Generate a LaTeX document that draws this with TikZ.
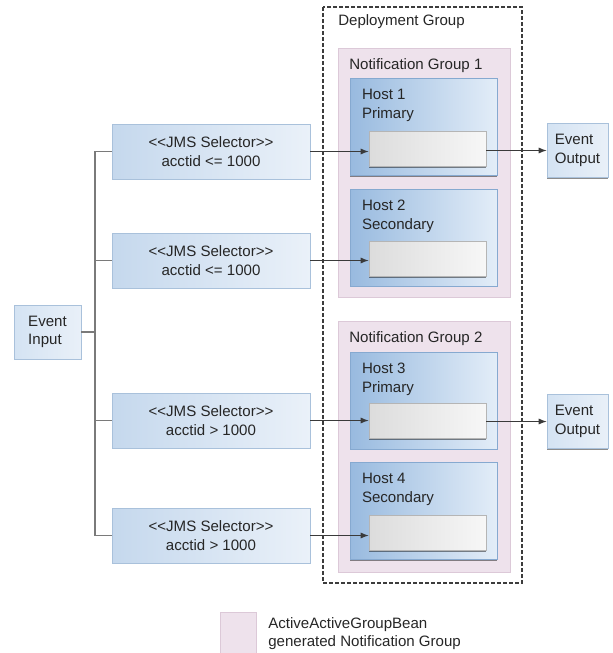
\documentclass[tikz,border=0pt]{standalone}
\usepackage{fontspec}
\setmainfont{Liberation Sans}
\usetikzlibrary{arrows.meta,shadows}
\definecolor{selA}{HTML}{C5D8ED}\definecolor{selB}{HTML}{EAF1F9}\definecolor{selline}{HTML}{A9C1DB}
\definecolor{ioA}{HTML}{D4E3F3}\definecolor{ioB}{HTML}{E9F0F8}
\definecolor{hostA}{HTML}{98BADF}\definecolor{hostB}{HTML}{E3EDF8}\definecolor{hostline}{HTML}{86A9D0}
\definecolor{slotA}{HTML}{DCDCDC}\definecolor{slotB}{HTML}{F7F7F7}\definecolor{slotline}{HTML}{B5B5B5}
\definecolor{grpfill}{HTML}{EEE2EC}\definecolor{grpline}{HTML}{DCC9D8}
\definecolor{wirec}{HTML}{7A7A7A}\definecolor{arrc}{HTML}{3A3A3A}\definecolor{dashc}{HTML}{3C3C3C}
\begin{document}
\begin{tikzpicture}[x=.75pt,y=-.75pt,font=\fontsize{11.3}{14}\selectfont,text=black!85,
  shd/.style={drop shadow={shadow xshift=.3pt,shadow yshift=-.9pt,opacity=.45,fill=black}},
  sel/.style={shd,draw=selline,left color=selA,right color=selB,minimum width=148.5pt,minimum height=41.25pt,align=center,inner sep=0pt},
  io/.style={shd,draw=selline,left color=ioA,right color=ioB,minimum height=40.5pt,align=left,inner sep=0pt},
  host/.style={shd,draw=hostline,left color=hostA,right color=hostB,minimum width=110.25pt,minimum height=72.75pt,inner sep=0pt},
  slot/.style={shd,draw=slotline,left color=slotA,right color=slotB,minimum width=87.75pt,minimum height=26.25pt,inner sep=0pt},
  grp/.style={draw=grpline,fill=grpfill,line width=.6pt},
  lbl/.style={inner sep=0pt,align=left},
  wire/.style={draw=wirec,line width=1pt},
  arr/.style={draw=arrc,line width=.75pt,-{Latex[length=6pt,width=4.5pt]}}]
\useasboundingbox (0,0) rectangle (613,653);
\draw[line width=1.1pt,dash pattern=on 3pt off 1.5pt,draw=dashc] (323,7) rectangle (522,583);
\node[lbl,anchor=base west] (dep) at (338,26) {Deployment Group};
\draw[grp] (338,48) rectangle (510,297); \draw[grp] (338,321) rectangle (510,572);
\node[lbl,anchor=base west] (g1) at (349,69) {Notification Group 1};
\node[lbl,anchor=base west] (g2) at (349,342) {Notification Group 2};
\node[host] (h1) at (423.5,127) {}; \node[host] (h2) at (423.5,237.5) {};
\node[host] (h3) at (423.5,400.5) {}; \node[host] (h4) at (423.5,511) {};
\node[lbl,anchor=north west] (l1) at ([shift={(12,11)}]h1.north west) {Host 1\\Primary};
\node[lbl,anchor=north west] (l2) at ([shift={(12,11)}]h2.north west) {Host 2\\Secondary};
\node[lbl,anchor=north west] (l3) at ([shift={(12,11)}]h3.north west) {Host 3\\Primary};
\node[lbl,anchor=north west] (l4) at ([shift={(12,11)}]h4.north west) {Host 4\\Secondary};
\node[slot] (b1) at (427.5,149) {}; \node[slot] (b2) at (427.5,259) {};
\node[slot] (b3) at (427.5,421) {}; \node[slot] (b4) at (427.5,533) {};
\node[sel] (s1) at (211,151.5) {<{}<JMS Selector>{}>\\acctid <= 1000};
\node[sel] (s2) at (211,260.5) {<{}<JMS Selector>{}>\\acctid <= 1000};
\node[sel] (s3) at (211,420.5) {<{}<JMS Selector>{}>\\acctid > 1000};
\node[sel] (s4) at (211,535.5) {<{}<JMS Selector>{}>\\acctid > 1000};
\node[io,minimum width=50.25pt] (in) at (47.5,332) {Event\\Input};
\node[io,minimum width=45.75pt] (o1) at (577.5,150.5) {Event\\Output};
\node[io,minimum width=45.75pt] (o2) at (577.5,421.5) {Event\\Output};
\coordinate (t) at (95,332);
\draw[wire] (in.east) -- (t); \draw[wire] (s1.west) -| (t) -- (t |- s4.west) -- (s4.west);
\draw[wire] (s2.west) -- (s2.west -| t); \draw[wire] (s3.west) -- (s3.west -| t);
\draw[arr] (s1.east) -- (s1.east -| b1.west); \draw[arr] (s2.east) -- (s2.east -| b2.west);
\draw[arr] (s3.east) -- (s3.east -| b3.west); \draw[arr] (s4.east) -- (s4.east -| b4.west);
\draw[arr] (o1.west -| b1.east) -- (o1.west); \draw[arr] (o2.west -| b3.east) -- (o2.west);
\node[grp,minimum width=27pt,minimum height=30.75pt,inner sep=0pt] (key) at (238,632.5) {};
\node[lbl,anchor=north west] (keytxt) at (268,617) {ActiveActiveGroupBean\\generated Notification Group};
\end{tikzpicture}
\end{document}
